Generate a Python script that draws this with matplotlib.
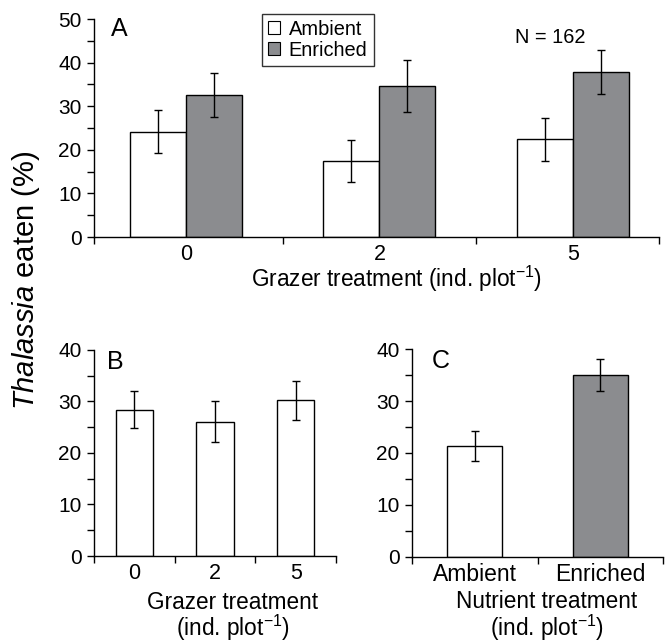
import matplotlib
matplotlib.use('Agg')
import matplotlib.pyplot as plt
from matplotlib.patches import Patch
import numpy as np

# panel A: grazer x nutrient
grazer_labels = ['0', '2', '5']
ambient = [24.2, 17.5, 22.4]
ambient_se = [5.0, 4.8, 5.0]
enriched = [32.6, 34.6, 37.9]
enriched_se = [5.1, 5.9, 5.1]

# panel B: grazer main effect
grazer_mean = [28.4, 26.1, 30.2]
grazer_se = [3.6, 4.0, 3.7]

# panel C: nutrient main effect
nutrient_labels = ['Ambient', 'Enriched']
nutrient_mean = [21.4, 35.1]
nutrient_se = [2.9, 3.05]

GRAY = '#8b8c8f'
plt.rcParams['font.family'] = ['Liberation Sans', 'DejaVu Sans']
plt.rcParams['mathtext.fontset'] = 'custom'
plt.rcParams['mathtext.rm'] = 'Liberation Sans'
plt.rcParams['mathtext.it'] = 'Liberation Sans:italic'
plt.rcParams['font.size'] = 15

err_kw = dict(ecolor='black', elinewidth=1.0, capsize=3, capthick=1.0)
LBL = 16.3
UNIT = r'(ind. plot$^{-1}$)'


def style_axes(ax, ymax, xmin, xmax, bounds):
    for s in ['top', 'right']:
        ax.spines[s].set_visible(False)
    ax.spines['left'].set_linewidth(1.0)
    ax.spines['bottom'].set_linewidth(1.0)
    ax.set_ylim(0, ymax)
    ax.set_xlim(xmin, xmax)
    ax.set_yticks(np.arange(0, ymax + 1, 10))
    ax.set_yticks(np.arange(5, ymax, 10), minor=True)
    ax.set_xticks(bounds, minor=True)
    ax.tick_params(axis='y', which='both', direction='out', length=5, width=1.0, pad=4, labelsize=15)
    ax.tick_params(axis='x', which='major', length=0, pad=5, labelsize=15.5)
    ax.tick_params(axis='x', which='minor', direction='out', length=5, width=1.0)


def two_line_label(ax, first, xpos, y1, y2):
    ax.text(xpos, y1, first, transform=ax.transAxes, fontsize=LBL, ha='center', va='baseline')
    ax.text(xpos, y2, UNIT, transform=ax.transAxes, fontsize=LBL, ha='center', va='baseline')


fig = plt.figure(figsize=(6.68, 6.43), dpi=100)

# ---- A ----
axA = fig.add_axes([0.1407, 0.6314, 0.8458, 0.3390])
x = np.arange(len(grazer_labels))
w = 0.29
axA.bar(x - w / 2, ambient, w, color='white', edgecolor='black', linewidth=1.0,
        yerr=ambient_se, error_kw=err_kw, zorder=2)
axA.bar(x + w / 2, enriched, w, color=GRAY, edgecolor='black', linewidth=1.0,
        yerr=enriched_se, error_kw=err_kw, zorder=2)
style_axes(axA, 50, -0.475, 2.445, [-0.475, 0.5, 1.5, 2.445])
axA.set_xticks(x)
axA.set_xticklabels(grazer_labels)
axA.set_xlabel('Grazer treatment ' + UNIT, fontsize=LBL)
axA.xaxis.set_label_coords(0.535, -0.125)
axA.text(0.03, 1.01, 'A', transform=axA.transAxes, fontsize=18, va='top', ha='left')
axA.text(0.807, 0.96, 'N = 162', transform=axA.transAxes, fontsize=14.4, va='top', ha='center')
handles = [Patch(facecolor='white', edgecolor='black', linewidth=0.8),
           Patch(facecolor=GRAY, edgecolor='black', linewidth=0.8)]
leg = axA.legend(handles, ['Ambient', 'Enriched'], loc='upper left',
                 bbox_to_anchor=(0.297, 1.025), fontsize=14.4, frameon=True,
                 fancybox=False, handlelength=0.6, handleheight=0.6,
                 handletextpad=0.45, borderpad=0.3, labelspacing=0.1, borderaxespad=0)
leg.get_frame().set_edgecolor('black')
leg.get_frame().set_linewidth(1.0)

# ---- B ----
axB = fig.add_axes([0.1407, 0.1353, 0.3623, 0.3204])
xb = np.arange(len(grazer_labels))
axB.bar(xb, grazer_mean, 0.46, color='white', edgecolor='black', linewidth=1.0,
        yerr=grazer_se, error_kw=err_kw, zorder=2)
style_axes(axB, 40, -0.5, 2.5, [-0.5, 0.5, 1.5, 2.5])
axB.set_xticks(xb)
axB.set_xticklabels(grazer_labels)
two_line_label(axB, 'Grazer treatment', 0.574, -0.255, -0.39)
axB.text(0.055, 1.0, 'B', transform=axB.transAxes, fontsize=18, va='top', ha='left')

# ---- C ----
axC = fig.add_axes([0.6168, 0.1345, 0.3757, 0.3220])
xc = np.arange(len(nutrient_labels))
axC.bar(xc, nutrient_mean, 0.44, color=['white', GRAY], edgecolor='black', linewidth=1.0,
        yerr=nutrient_se, error_kw=err_kw, zorder=2)
style_axes(axC, 40, -0.5, 1.5, [-0.5, 0.5, 1.5])
axC.set_xticks(xc)
axC.set_xticklabels(nutrient_labels)
axC.tick_params(axis='x', which='major', labelsize=16.5)
two_line_label(axC, 'Nutrient treatment', 0.538, -0.25, -0.385)
axC.text(0.08, 1.0, 'C', transform=axC.transAxes, fontsize=18, va='top', ha='left')

fig.text(0.039, 0.5645, r'$\mathit{Thalassia}$ eaten (%)', rotation=90,
         fontsize=21, ha='center', va='center')

fig.savefig('out.png', dpi=100)
